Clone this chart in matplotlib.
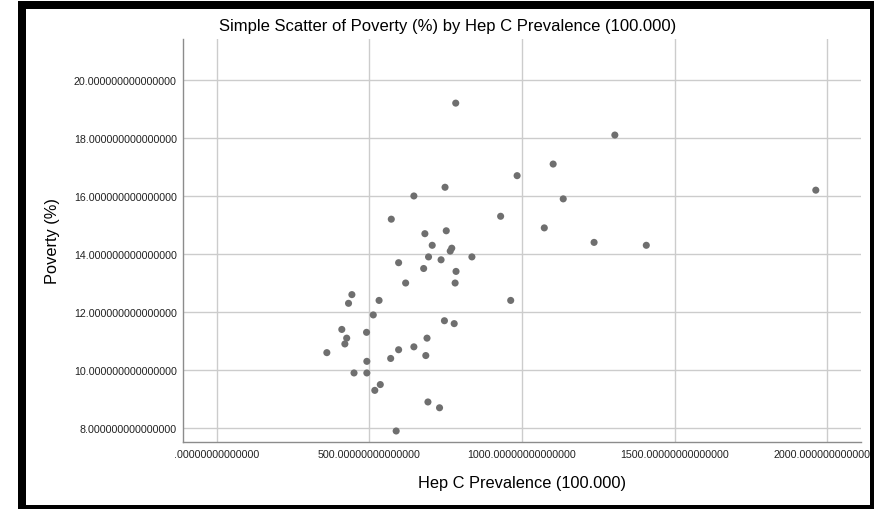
import matplotlib
matplotlib.use("Agg")
import matplotlib.pyplot as plt
from matplotlib.patches import Rectangle
from matplotlib.ticker import FuncFormatter

plt.rcParams['font.family'] = ['Liberation Sans', 'DejaVu Sans']

# Hep C prevalence (per 100,000) and poverty (%) for each state
hepc = [783, 1304, 1102, 984, 748, 646, 1135, 572, 930, 1073,
        1236, 682, 752, 706, 770, 765, 694, 735, 836, 596,
        678, 784, 619, 781, 443, 432, 532, 963, 513, 746,
        778, 410, 491, 426, 420, 689, 596, 646, 570, 685,
        361, 492, 450, 492, 536, 518, 692, 730, 588, 1962,
        1407]
poverty = [19.2, 18.1, 17.1, 16.7, 16.3, 16.0, 15.9, 15.2, 15.3, 14.9,
           14.4, 14.7, 14.8, 14.3, 14.2, 14.1, 13.9, 13.8, 13.9, 13.7,
           13.5, 13.4, 13.0, 13.0, 12.6, 12.3, 12.4, 12.4, 11.9, 11.7,
           11.6, 11.4, 11.3, 11.1, 10.9, 11.1, 10.7, 10.8, 10.4, 10.5,
           10.6, 10.3, 9.9, 9.9, 9.5, 9.3, 8.9, 8.7, 7.9, 16.2,
           14.3]

x_ticks = [0, 500, 1000, 1500, 2000]
y_ticks = [8, 10, 12, 14, 16, 18, 20]

W, H = 874, 510
fig = plt.figure(figsize=(W / 100, H / 100), dpi=100)
ax = fig.add_axes([183 / W, 1 - 443.3 / H, (861 - 183) / W, (443.3 - 40) / H])

ax.scatter(hepc, poverty, s=26, color='#6f6f6f', edgecolors='none', zorder=3)

ax.set_xlim(-110, 2110)
ax.set_ylim(7.51, 21.41)
ax.set_xticks(x_ticks)
ax.set_yticks(y_ticks)


def xfmt(v, pos):
    s = '%.14f' % v
    return s[1:] if s.startswith('0') else s


ax.xaxis.set_major_formatter(FuncFormatter(xfmt))
ax.yaxis.set_major_formatter(FuncFormatter(lambda v, pos: '%.15f' % v))

ax.grid(True, color='#cccccc', linewidth=1.0, zorder=0)
ax.set_axisbelow(True)
ax.tick_params(axis='both', length=0, labelsize=7.7, colors='#222222')
ax.tick_params(axis='y', pad=4.5)
ax.tick_params(axis='x', pad=5)
for side in ['top', 'right']:
    ax.spines[side].set_visible(False)
for side in ['left', 'bottom']:
    ax.spines[side].set_color('#8c8c8c')
    ax.spines[side].set_linewidth(1.0)

fig.text(448 / W, 1 - 27 / H, 'Simple Scatter of Poverty (%) by Hep C Prevalence (100.000)',
         ha='center', va='center', fontsize=12, color='#000000')
fig.text(522 / W, 1 - 484 / H, 'Hep C Prevalence (100.000)', ha='center', va='center',
         fontsize=11.8, color='#000000')
fig.text(52 / W, 1 - 241 / H, 'Poverty (%)', ha='center', va='center', rotation=90,
         fontsize=11.8, color='#000000')

# black frame around the output
fig.add_artist(Rectangle((22 / W, 0), 1 - 22 / W, 1 - 6 / H, transform=fig.transFigure,
                         fill=False, edgecolor='black', linewidth=8 * 0.72, zorder=10,
                         clip_on=False))

fig.savefig('out.png', dpi=100)
